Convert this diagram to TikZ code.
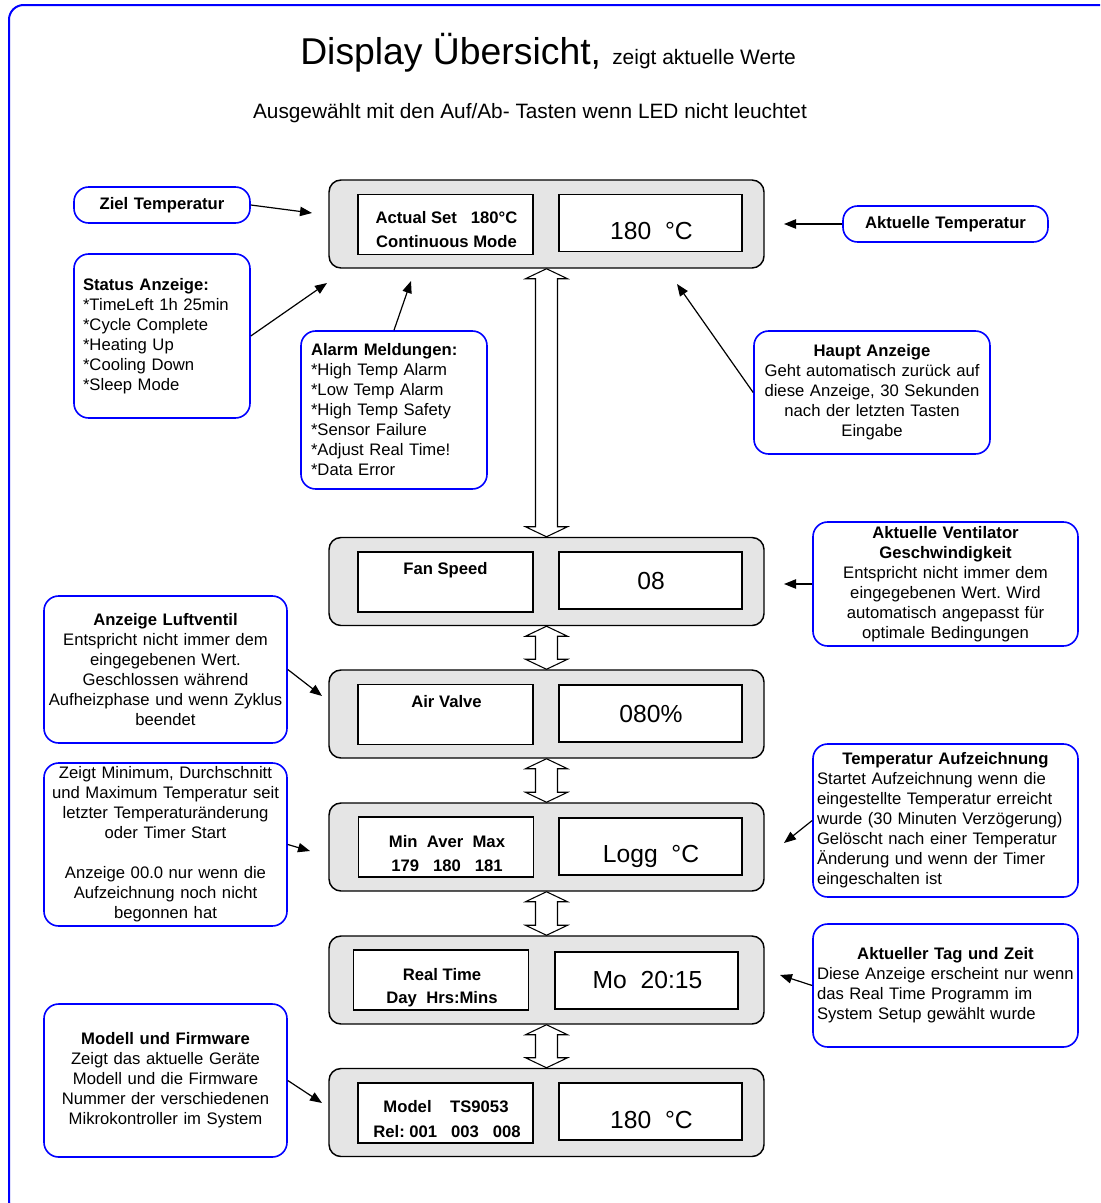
\documentclass[tikz,border=0pt]{standalone}
\usepackage{fontspec}
\setmainfont{Liberation Sans}
\usetikzlibrary{arrows.meta,calc}
\frenchspacing
\newcommand\bodyfont{\fontsize{12.5}{15}\selectfont}
\newcommand\bigval{\fontsize{18.5}{22}\selectfont}
\newcommand\dblarrow[2]{%
  \draw[dblarr] (#1.south) -- ($(#1.south)+(21,10)$) -- ($(#1.south)+(11,10)$)
    -- ($(#2.north)+(11,-10)$) -- ($(#2.north)+(21,-10)$) -- (#2.north)
    -- ($(#2.north)+(-21,-10)$) -- ($(#2.north)+(-11,-10)$)
    -- ($(#1.south)+(-11,10)$) -- ($(#1.south)+(-21,10)$) -- cycle;}
\begin{document}
\begin{tikzpicture}[x=0.75pt,y=-0.75pt,
  frame/.style={draw=blue, line width=1.5pt, rounded corners=11pt},
  panel/.style={draw=black, line width=1.1pt, fill=gray!20, rounded corners=9pt,
    minimum width=326.25pt, minimum height=66pt, inner sep=0pt},
  lbox/.style={draw=black, line width=1.1pt, fill=white, minimum width=131.25pt,
    minimum height=45pt, inner sep=0pt},
  rbox/.style={draw=black, line width=1.1pt, fill=white, minimum width=137.25pt,
    minimum height=42.75pt, inner sep=0pt},
  lbl/.style={font=\bodyfont\bfseries, inner sep=0pt, anchor=base},
  val/.style={font=\bigval, inner sep=0pt, anchor=base},
  callout/.style={draw=blue, line width=1.2pt, rounded corners=11pt, fill=white,
    inner sep=0pt, align=center, font=\bodyfont},
  pointer/.style={draw=black, line width=0.9pt, -{Triangle[length=9pt,width=7pt]}},
  dblarr/.style={draw=black, fill=white, line width=0.8pt, line join=miter},
]
\useasboundingbox (0,0) rectangle (1100,1203);
\begin{scope}
  \clip (0,0) rectangle (1100,1203);
  \draw[frame] (9,5) rectangle (1114,1215);
\end{scope}

% titles
\node[anchor=base west, inner sep=0pt] (title) at (300,64)
  {\fontsize{28}{32}\selectfont Display Übersicht,};
\node[anchor=base west, inner sep=0pt] (titlesub) at (612,64)
  {\fontsize{15.7}{18}\selectfont zeigt aktuelle Werte};
\node[anchor=base, inner sep=0pt] (sub) at (530,118)
  {\fontsize{15.6}{18}\selectfont Ausgewählt mit den Auf/Ab- Tasten wenn LED nicht leuchtet};

% panels
\node[panel] (p1) at (546.5,224) {};
\node[panel] (p2) at (546.5,581.5) {};
\node[panel] (p3) at (546.5,714) {};
\node[panel] (p4) at (546.5,847) {};
\node[panel] (p5) at (546.5,980) {};
\node[panel] (p6) at (546.5,1112.5) {};

\node[lbox] (l1) at (445.5,224.5) {};
\node[rbox] (r1) at (650.5,223) {};
\node[lbox] (l2) at (445.5,582) {};
\node[rbox] (r2) at (650.5,580.5) {};
\node[lbox] (l3) at (445.5,714.5) {};
\node[rbox] (r3) at (650.5,713.5) {};
\node[lbox] (l4) at (446,847) {};
\node[rbox] (r4) at (650.5,846.5) {};
\node[lbox] (l5) at (441,980) {};
\node[rbox] (r5) at (646.5,980.5) {};
\node[lbox] (l6) at (445.5,1113) {};
\node[rbox] (r6) at (650.5,1111.5) {};

% panel texts
\node[lbl] (t1a) at (446.5,223) {Actual Set\ \ \ 180°C};
\node[lbl] (t1b) at (446.5,247) {Continuous Mode};
\node[val] (v1) at (651.5,239) {180\ \ °C};
\node[lbl] (t2) at (445.5,574) {Fan Speed};
\node[val] (v2) at (651,589) {08};
\node[lbl] (t3) at (446.5,707) {Air Valve};
\node[val] (v3) at (651,722) {080\%};
\node[lbl] (t4a) at (447,847) {Min\ \ Aver\ \ Max};
\node[lbl] (t4b) at (447,871) {179\ \ \ 180\ \ \ 181};
\node[val] (v4) at (651,862) {Logg\ \ °C};
\node[lbl] (t5a) at (442,980) {Real Time};
\node[lbl] (t5b) at (442,1003.5) {Day\ \ Hrs:Mins};
\node[val] (v5) at (647.5,988) {Mo\ \ 20:15};
\node[lbl] (t6a) at (446,1112.5) {Model\ \ \ \ TS9053};
\node[lbl] (t6b) at (447,1137) {Rel: 001\ \ \ 003\ \ \ 008};
\node[val] (v6) at (651.5,1128) {180\ \ °C};

% double arrows
\dblarrow{p1}{p2}
\dblarrow{p2}{p3}
\dblarrow{p3}{p4}
\dblarrow{p4}{p5}
\dblarrow{p5}{p6}

% callouts
\node[callout, minimum width=132pt, minimum height=27pt, text width=130pt] (ziel) at (162,205)
  {\textbf{Ziel Temperatur}};
\node[callout, minimum width=153.75pt, minimum height=27pt, text width=150pt] (akt) at (945.5,224)
  {\textbf{Aktuelle Temperatur}};
\node[callout, minimum width=132pt, minimum height=123pt, text width=118.5pt, align=left] (status) at (162,336)
  {\textbf{Status Anzeige:}\\{}*TimeLeft 1h 25min\\{}*Cycle Complete\\{}*Heating Up\\{}*Cooling Down\\{}*Sleep Mode};
\node[callout, minimum width=139.5pt, minimum height=118.5pt, text width=124.5pt, align=left] (alarm) at (394,410)
  {\textbf{Alarm Meldungen:}\\{}*High Temp Alarm\\{}*Low Temp Alarm\\{}*High Temp Safety\\{}*Sensor Failure\\{}*Adjust Real Time!\\{}*Data Error};
\node[callout, minimum width=177pt, minimum height=92.25pt, text width=174pt] (haupt) at (872,392.5)
  {\textbf{Haupt Anzeige}\\ Geht automatisch zurück auf\\ diese Anzeige, 30 Sekunden\\ nach der letzten Tasten\\ Eingabe};
\node[callout, minimum width=198.75pt, minimum height=93pt, text width=196pt] (vent) at (945.5,584)
  {\textbf{Aktuelle Ventilator}\\ \textbf{Geschwindigkeit}\\ Entspricht nicht immer dem\\ eingegebenen Wert. Wird\\ automatisch angepasst für\\ optimale Bedingungen};
\node[callout, minimum width=182.25pt, minimum height=110.25pt, text width=180pt] (luft) at (165.5,669.5)
  {\textbf{Anzeige Luftventil}\\ Entspricht nicht immer dem\\ eingegebenen Wert.\\ Geschlossen während\\ Aufheizphase und wenn Zyklus\\ beendet};
\node[callout, minimum width=182.25pt, minimum height=122.25pt, text width=180pt] (zeigt) at (165.5,844.5)
  {Zeigt Minimum, Durchschnitt\\ und Maximum Temperatur seit\\ letzter Temperaturänderung\\ oder Timer Start\\[15pt] Anzeige 00.0 nur wenn die\\ Aufzeichnung noch nicht\\ begonnen hat};
\node[callout, minimum width=198.75pt, minimum height=114.75pt, text width=192.75pt, align=left] (taufz) at (945.5,820.5)
  {\makebox[\linewidth]{\textbf{Temperatur Aufzeichnung}}\\ Startet Aufzeichnung wenn die\\ eingestellte Temperatur erreicht\\ wurde (30 Minuten Verzögerung)\\ Gelöscht nach einer Temperatur\\ Änderung und wenn der Timer\\ eingeschalten ist};
\node[callout, minimum width=198.75pt, minimum height=92.25pt, text width=192.75pt, align=left] (tag) at (945.5,985.5)
  {\makebox[\linewidth]{\textbf{Aktueller Tag und Zeit}}\\ Diese Anzeige erscheint nur wenn\\ das Real Time Programm im\\ System Setup gewählt wurde};
\node[callout, minimum width=182.25pt, minimum height=114.75pt, text width=180pt] (modell) at (165.5,1080.5)
  {\textbf{Modell und Firmware}\\ Zeigt das aktuelle Geräte\\ Modell und die Firmware\\ Nummer der verschiedenen\\ Mikrokontroller im System};

% pointer end coordinates
\coordinate (cziel) at (312,213);
\coordinate (cakt) at (784,224);
\coordinate (cstatus) at (327,283);
\coordinate (calarm) at (411,281);
\coordinate (chaupt) at (677,284);
\coordinate (cvent) at (784,584);
\coordinate (cluft) at (322,696);
\coordinate (czeigt) at (310,851);
\coordinate (ctaufz) at (784,843);
\coordinate (ctag) at (780,975);
\coordinate (cmodell) at (322,1103);

\draw[pointer] (ziel.east) -- (cziel);
\draw[pointer] (akt.west) -- (cakt);
\draw[pointer] (status.east) -- (cstatus);
\draw[pointer] (alarm.north) -- (calarm);
\draw[pointer] (haupt.west) -- (chaupt);
\draw[pointer] (vent.west) -- (cvent);
\draw[pointer] (luft.east) -- (cluft);
\draw[pointer] (zeigt.east) -- (czeigt);
\draw[pointer] (taufz.west) -- (ctaufz);
\draw[pointer] (tag.west) -- (ctag);
\draw[pointer] (modell.east) -- (cmodell);
\end{tikzpicture}
\end{document}
